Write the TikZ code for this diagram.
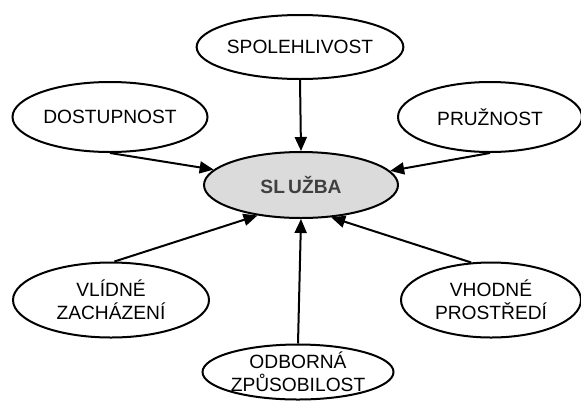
\documentclass[tikz,border=0pt]{standalone}
\usepackage{fontspec}
\setmainfont{Liberation Sans}
\usetikzlibrary{arrows.meta,shapes.geometric}

\begin{document}
\begin{tikzpicture}[
      x=0.5pt,y=-0.5pt,
      bubble/.style={draw, line width=1pt, ellipse, inner sep=0pt, align=center,
        font=\fontsize{9.6}{11.5}\selectfont},
      core/.style={bubble, fill=gray!28, text=black!75, font=\fontsize{9.6}{11.5}\selectfont\bfseries},
      link/.style={line width=1pt, -{Triangle[length=7pt,width=6pt]}}
    ]
      \useasboundingbox (0,0) rectangle (581,402);
      \node[core, minimum width=97pt, minimum height=33pt] (sluzba) at (301,185) {SL\,UŽBA};
      \node[bubble, minimum width=97pt, minimum height=32pt] (spol) at (300,47) {SPOLEHLIVOST};
      \node[bubble, minimum width=97.5pt, minimum height=35pt] (dost) at (110,117) {DOSTUPNOST};
      \node[bubble, minimum width=92pt, minimum height=35pt] (pruz) at (490,117) {PRUŽNOST};
      \node[bubble, minimum width=98pt, minimum height=37.5pt] (vlid) at (111,300) {VLÍDNÉ\\ZACHÁZENÍ};
      \node[bubble, minimum width=90pt, minimum height=37.5pt] (vhod) at (491,300) {VHODNÉ\\PROSTŘEDÍ};
      \node[bubble, inner ysep=-4pt, inner xsep=-3pt, minimum width=95.5pt, minimum height=27.5pt] (odb) at (298,372) {ODBORNÁ\\ZPŮSOBILOST};
      \draw[link] (spol.south) -- (sluzba.north);
      \draw[link] (dost.south) -- (sluzba.170);
      \draw[link] (pruz.south) -- (sluzba.9);
      \draw[link] (vlid.85) -- (sluzba.215);
      \draw[link] (vhod.118) -- (sluzba.313);
      \draw[link] (odb.north) -- (sluzba.south);
    \end{tikzpicture}
\end{document}
